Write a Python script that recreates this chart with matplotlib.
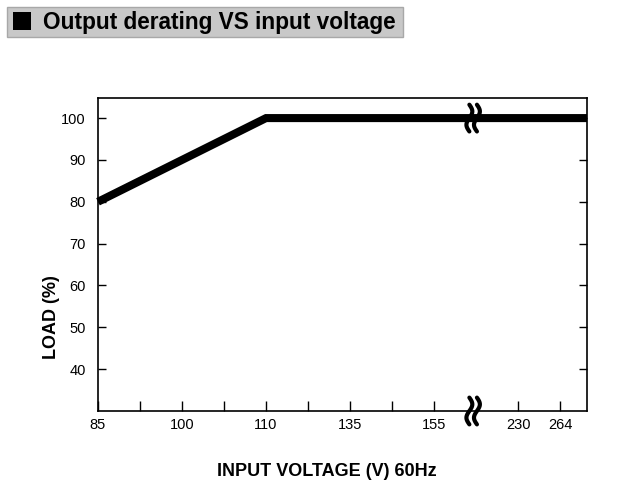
import numpy as np
import matplotlib.pyplot as plt
from matplotlib.patches import Rectangle
from matplotlib import font_manager

# pick a narrow font if it exists
names = {f.name for f in font_manager.fontManager.ttflist}
NARROW = "Liberation Sans Narrow" if "Liberation Sans Narrow" in names else "Liberation Sans"
plt.rcParams['font.family'] = [NARROW, 'DejaVu Sans']

# Data
tick_labels = ["85", "100", "110", "135", "155", "230", "264"]
tick_slots = [0, 2, 4, 6, 8, 10, 11]   # slots on the broken axis
minor_slots = [1, 3, 5, 7]
load_slots = [0, 4, 11.64]   # 85V, 110V, right edge
load_values = [80, 100, 100]
y_ticks = [40, 50, 60, 70, 80, 90, 100]
break_slot = 8.93

fig = plt.figure(figsize=(6.21, 5.0), dpi=100)
W, H = 621, 500
ax = fig.add_axes([98 / W, 1 - 411 / H, (587 - 98) / W, (411 - 98) / H])

ax.plot(load_slots, load_values, color="black", linewidth=5.8,
        solid_capstyle="butt", solid_joinstyle="miter", clip_on=False, zorder=3)

ax.set_xlim(0, 11.64)
ax.set_ylim(30, 104.8)
ax.set_xticks(tick_slots)
ax.set_xticklabels(tick_labels)
ax.set_xticks(minor_slots, minor=True)
ax.set_yticks(y_ticks)
ax.tick_params(axis="x", which="both", direction="in", length=7, width=1,
               labelsize=10.5, pad=5)
ax.tick_params(axis="y", direction="in", length=6, width=1, labelsize=10.5,
               pad=9, right=True)
for s in ax.spines.values():
    s.set_linewidth(1.2)

# axis break marks, "))" over "(("
t = np.linspace(-1, 1, 50)
for yc in (100, 30):
    for dx in (-0.09, 0.09):
        ax.plot(break_slot + dx + 0.07 * np.sin(np.pi * t), yc + t * 3.2,
                color="black", linewidth=3.0, clip_on=False, zorder=4,
                solid_capstyle="round")

# title box
fig.patches.append(Rectangle((7 / W, 1 - 37 / H), (403 - 7) / W, 30 / H,
                             transform=fig.transFigure, facecolor="#c8c8c8",
                             edgecolor="#a8a8a8", linewidth=1))
fig.patches.append(Rectangle((13 / W, 1 - 30 / H), 18 / W, 18 / H,
                             transform=fig.transFigure, facecolor="black",
                             edgecolor="none"))
fig.text(43 / W, 1 - 22 / H, "Output derating VS input voltage",
         fontsize=16.3, fontweight="bold", va="center", ha="left",
         family=["Liberation Sans", "DejaVu Sans"])

fig.text(52 / W, 1 - 317 / H, "LOAD (%)", rotation=90, fontsize=13,
         fontweight="bold", ha="center", va="center",
         family=["Liberation Sans", "DejaVu Sans"])
fig.text(327 / W, 1 - 472 / H, "INPUT VOLTAGE (V) 60Hz", fontsize=13,
         fontweight="bold", ha="center", va="center",
         family=["Liberation Sans", "DejaVu Sans"])

fig.savefig("out.png", dpi=100)
